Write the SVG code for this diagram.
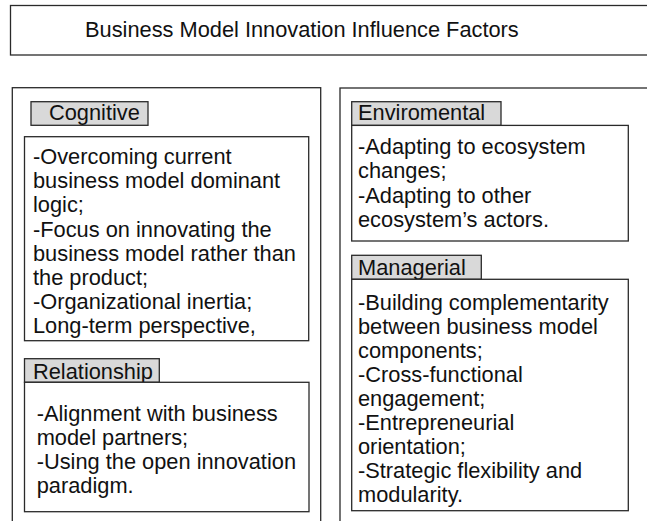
<svg xmlns="http://www.w3.org/2000/svg" width="647" height="521" viewBox="0 0 647 521">
<style>
.box{fill:#ffffff;stroke:#2a2a2a;stroke-width:1.3}
.lab{fill:#d9d9d9;stroke:#2a2a2a;stroke-width:1.3}
text{font-family:"Liberation Sans",Arial,sans-serif;font-size:21.8px;fill:#111111}
</style>
<rect width="647" height="521" fill="#ffffff"/>
<g id="title">
<rect class="box" x="10.5" y="5.5" width="700" height="49.5"/>
<text x="85" y="37">Business Model Innovation Influence Factors</text>
</g>
<g id="left-panel">
<rect class="box" x="12.3" y="87.7" width="308.4" height="460"/>
</g>
<g id="right-panel">
<rect class="box" x="340" y="88" width="360" height="460"/>
</g>
<g id="cognitive">
<rect class="lab" x="31" y="101.7" width="117" height="23.6"/>
<text x="49" y="120">Cognitive</text>
<rect class="box" x="24.5" y="136.7" width="284.2" height="204"/>
<text x="33" y="164">-Overcoming current</text>
<text x="33" y="188">business model dominant</text>
<text x="33" y="212">logic;</text>
<text x="33" y="237">-Focus on innovating the</text>
<text x="33" y="261">business model rather than</text>
<text x="33" y="285">the product;</text>
<text x="33" y="309">-Organizational inertia;</text>
<text x="33" y="333">Long-term perspective,</text>
</g>
<g id="relationship">
<rect class="lab" x="24.5" y="358.7" width="134.8" height="23.6"/>
<text x="33" y="378.5">Relationship</text>
<rect class="box" x="24.5" y="382.3" width="284.5" height="129.4"/>
<text x="36.7" y="421">-Alignment with business</text>
<text x="36.7" y="445">model partners;</text>
<text x="36.7" y="469">-Using the open innovation</text>
<text x="36.7" y="493">paradigm.</text>
</g>
<g id="environmental">
<rect class="lab" x="351.7" y="101.7" width="149.3" height="23.7"/>
<text x="358" y="120">Enviromental</text>
<rect class="box" x="351.7" y="125.4" width="276.6" height="115.6"/>
<text x="358" y="154">-Adapting to ecosystem</text>
<text x="358" y="178">changes;</text>
<text x="358" y="203">-Adapting to other</text>
<text x="358" y="227">ecosystem’s actors.</text>
</g>
<g id="managerial">
<rect class="lab" x="351.7" y="255.3" width="129.6" height="24"/>
<text x="358" y="274.5">Managerial</text>
<rect class="box" x="351.7" y="279.3" width="276.6" height="231.4"/>
<text x="358" y="310">-Building complementarity</text>
<text x="358" y="334">between business model</text>
<text x="358" y="358">components;</text>
<text x="358" y="382">-Cross-functional</text>
<text x="358" y="406">engagement;</text>
<text x="358" y="430">-Entrepreneurial</text>
<text x="358" y="454">orientation;</text>
<text x="358" y="478">-Strategic flexibility and</text>
<text x="358" y="502">modularity.</text>
</g>
<g id="connectors"></g>
</svg>
